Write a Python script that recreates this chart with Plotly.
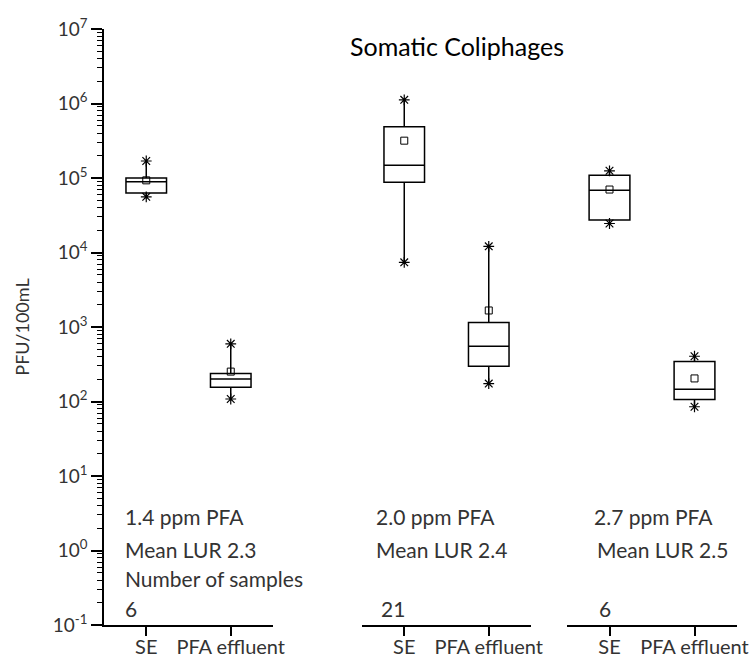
import plotly.graph_objects as go

# ---------------- data ----------------
groups = ["1.4 ppm PFA", "2.0 ppm PFA", "2.7 ppm PFA"]
lur_labels = ["Mean LUR 2.3", "Mean LUR 2.4", "Mean LUR 2.5"]
n_samples = ["6", "21", "6"]
categories = ["SE", "PFA effluent"]

se_max = [169000, 1120000, 125000]
se_q3 = [100000, 489000, 109000]
se_med = [89000, 148000, 68700]
se_mean = [93000, 317000, 70000]
se_q1 = [62700, 88000, 27400]
se_min = [55900, 7380, 24500]

pfa_max = [594, 12100, 405]
pfa_q3 = [237, 1150, 343]
pfa_med = [200, 552, 146]
pfa_mean = [252, 1667, 204]
pfa_q1 = [155, 297, 106]
pfa_min = [108, 174, 85]

y_tickvals = [0.1, 1, 10, 100, 1000, 1e4, 1e5, 1e6, 1e7]
y_ticktext = ["10<sup>-1</sup>", "10<sup>0</sup>", "10<sup>1</sup>", "10<sup>2</sup>",
              "10<sup>3</sup>", "10<sup>4</sup>", "10<sup>5</sup>", "10<sup>6</sup>",
              "10<sup>7</sup>"]

# ---------------- layout geometry ----------------
W, H = 753, 662
ML, MR, MT, MB = 104, 16, 29, 37
PW = W - ML - MR
PH = H - MT - MB

def px_x(p):
    return (p - ML) / PW

def px_y(p):
    return (H - MB - p) / PH

domains = [[px_x(104), px_x(273)], [px_x(362), px_x(531)], [px_x(567), px_x(737)]]

FONT = "Lato"
TXT = "#333333"

fig = go.Figure()

for i in range(3):
    xa = "x" if i == 0 else f"x{i+1}"
    fig.add_trace(go.Box(
        x=[0, 1],
        q1=[se_q1[i], pfa_q1[i]],
        median=[se_med[i], pfa_med[i]],
        q3=[se_q3[i], pfa_q3[i]],
        lowerfence=[se_min[i], pfa_min[i]],
        upperfence=[se_max[i], pfa_max[i]],
        boxpoints=False,
        width=0.48,
        whiskerwidth=0,
        fillcolor="white",
        line=dict(color="black", width=1.5),
        xaxis=xa, yaxis="y",
        showlegend=False, hoverinfo="skip",
    ))
    fig.add_trace(go.Scatter(
        x=[0, 1], y=[se_mean[i], pfa_mean[i]],
        mode="markers",
        marker=dict(symbol="square-open", size=7, color="black", line=dict(width=1)),
        xaxis=xa, yaxis="y", showlegend=False, hoverinfo="skip",
    ))
    fig.add_trace(go.Scatter(
        x=[0, 1, 0, 1], y=[se_max[i], pfa_max[i], se_min[i], pfa_min[i]],
        mode="markers",
        marker=dict(symbol="asterisk-open", size=9, color="black", line=dict(width=1.2, color="black")),
        xaxis=xa, yaxis="y", showlegend=False, hoverinfo="skip",
    ))

xaxis_common = dict(
    range=[-0.5, 1.5],
    tickvals=[0, 1], ticktext=categories,
    showline=True, linecolor="black", linewidth=1.5,
    ticks="outside", ticklen=9, tickwidth=1.5, tickcolor="black",
    showgrid=False, zeroline=False,
    tickfont=dict(family=FONT, size=20, color=TXT),
    ticklabelstandoff=-6,
    anchor="y", fixedrange=True, automargin=False,
)

layout = dict(
    width=W, height=H,
    margin=dict(l=ML, r=MR, t=MT, b=MB, autoexpand=False),
    paper_bgcolor="white", plot_bgcolor="white",
    yaxis=dict(
        type="log", range=[-1, 7],
        tickvals=y_tickvals, ticktext=y_ticktext,
        showline=True, linecolor="black", linewidth=1.5,
        ticks="outside", ticklen=11, tickwidth=1.5, tickcolor="black",
        minor=dict(ticks="outside", ticklen=5, tickwidth=1, tickcolor="black", dtick="D1"),
        showgrid=False, zeroline=False,
        tickfont=dict(family=FONT, size=19, color=TXT),
        title=dict(text="PFU/100mL", font=dict(family=FONT, size=18, color=TXT), standoff=18),
        anchor="x", automargin=False,
    ),
    showlegend=False,
)
for i in range(3):
    key = "xaxis" if i == 0 else f"xaxis{i+1}"
    d = dict(xaxis_common)
    d["domain"] = domains[i]
    layout[key] = d

fig.update_layout(**layout)

annotations = [dict(
    text="Somatic Coliphages", x=px_x(457), y=px_y(46), xref="paper", yref="paper",
    xanchor="center", yanchor="middle", showarrow=False,
    font=dict(family=FONT, size=25, color="black"),
)]

text_x = [[123, 123, 123, 123], [374, 374, None, 379], [592, 595, None, 597]]
text_y = [516, 549, 578, 608]
for i in range(3):
    lines = [groups[i], lur_labels[i], "Number of samples" if i == 0 else None, n_samples[i]]
    for j, t in enumerate(lines):
        if t is None:
            continue
        annotations.append(dict(
            text=t, x=px_x(text_x[i][j]), y=px_y(text_y[j]), xref="paper", yref="paper",
            xanchor="left", yanchor="middle", showarrow=False,
            font=dict(family=FONT, size=21, color=TXT),
        ))

fig.update_layout(annotations=annotations)

fig.write_html("out.html")
